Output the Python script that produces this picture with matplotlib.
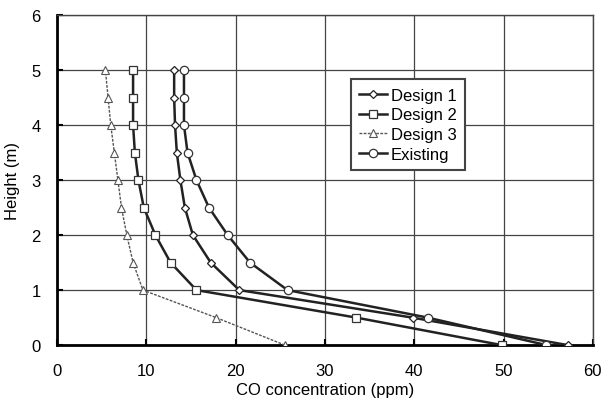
import matplotlib
matplotlib.use('Agg')
import matplotlib.pyplot as plt

plt.rcParams['font.family'] = ['Liberation Sans', 'DejaVu Sans']

# 높이 (m)
height = [0, 0.5, 1, 1.5, 2, 2.5, 3, 3.5, 4, 4.5, 5]

# CO 농도 (ppm)
design1 = [57.2, 39.8, 20.4, 17.2, 15.2, 14.3, 13.8, 13.4, 13.2, 13.1, 13.1]
design2 = [49.8, 33.5, 15.6, 12.7, 11.0, 9.7, 9.1, 8.7, 8.5, 8.5, 8.5]
design3 = [25.5, 17.8, 9.6, 8.5, 7.8, 7.2, 6.8, 6.4, 6.0, 5.7, 5.4]
existing = [54.8, 41.5, 25.8, 21.6, 19.1, 17.0, 15.6, 14.6, 14.2, 14.2, 14.2]

fig = plt.figure(figsize=(6.15, 4.14), dpi=100)
ax = fig.add_axes([0.093, 0.164, 0.871, 0.797])

ax.plot(design1, height, color='#222222', lw=1.8, marker='D', markersize=4.5,
        markerfacecolor='white', markeredgecolor='#222222', markeredgewidth=0.9,
        label='Design 1', zorder=4)
ax.plot(design2, height, color='#222222', lw=1.8, marker='s', markersize=6,
        markerfacecolor='white', markeredgecolor='#333333', markeredgewidth=0.9,
        label='Design 2', zorder=4)
ax.plot(design3, height, color='#555555', lw=1.0, ls=(0, (2, 1)), marker='^', markersize=6,
        markerfacecolor='white', markeredgecolor='#555555', markeredgewidth=0.8,
        label='Design 3', zorder=4)
ax.plot(existing, height, color='#222222', lw=1.8, marker='o', markersize=6,
        markerfacecolor='white', markeredgecolor='#333333', markeredgewidth=0.9,
        label='Existing', zorder=4)

ax.set_xlim(0, 60)
ax.set_ylim(0, 6)
ax.set_xticks(range(0, 61, 10))
ax.set_yticks(range(0, 7))
ax.grid(True, color='#444444', lw=0.9)
ax.set_axisbelow(True)

for side in ['top', 'right']:
    ax.spines[side].set_linewidth(1.0)
    ax.spines[side].set_color('#444444')
ax.spines['left'].set_linewidth(2.0)
ax.spines['bottom'].set_linewidth(2.0)

ax.tick_params(axis='both', labelsize=12, length=4, width=1.5, direction='in')
ax.tick_params(axis='x', pad=13)
ax.tick_params(axis='y', pad=12)
ax.set_xlabel('CO concentration (ppm)', fontsize=12, labelpad=3)
ax.set_ylabel('Height (m)', fontsize=12, labelpad=8)

leg = ax.legend(loc='upper left', bbox_to_anchor=(0.548, 0.805), fontsize=12,
                frameon=True, fancybox=False, edgecolor='#444444', framealpha=1,
                handlelength=1.7, handletextpad=0.2, labelspacing=0.28,
                borderpad=0.5, borderaxespad=0)
leg.get_frame().set_linewidth(1.5)

fig.savefig('out.png', dpi=100)
